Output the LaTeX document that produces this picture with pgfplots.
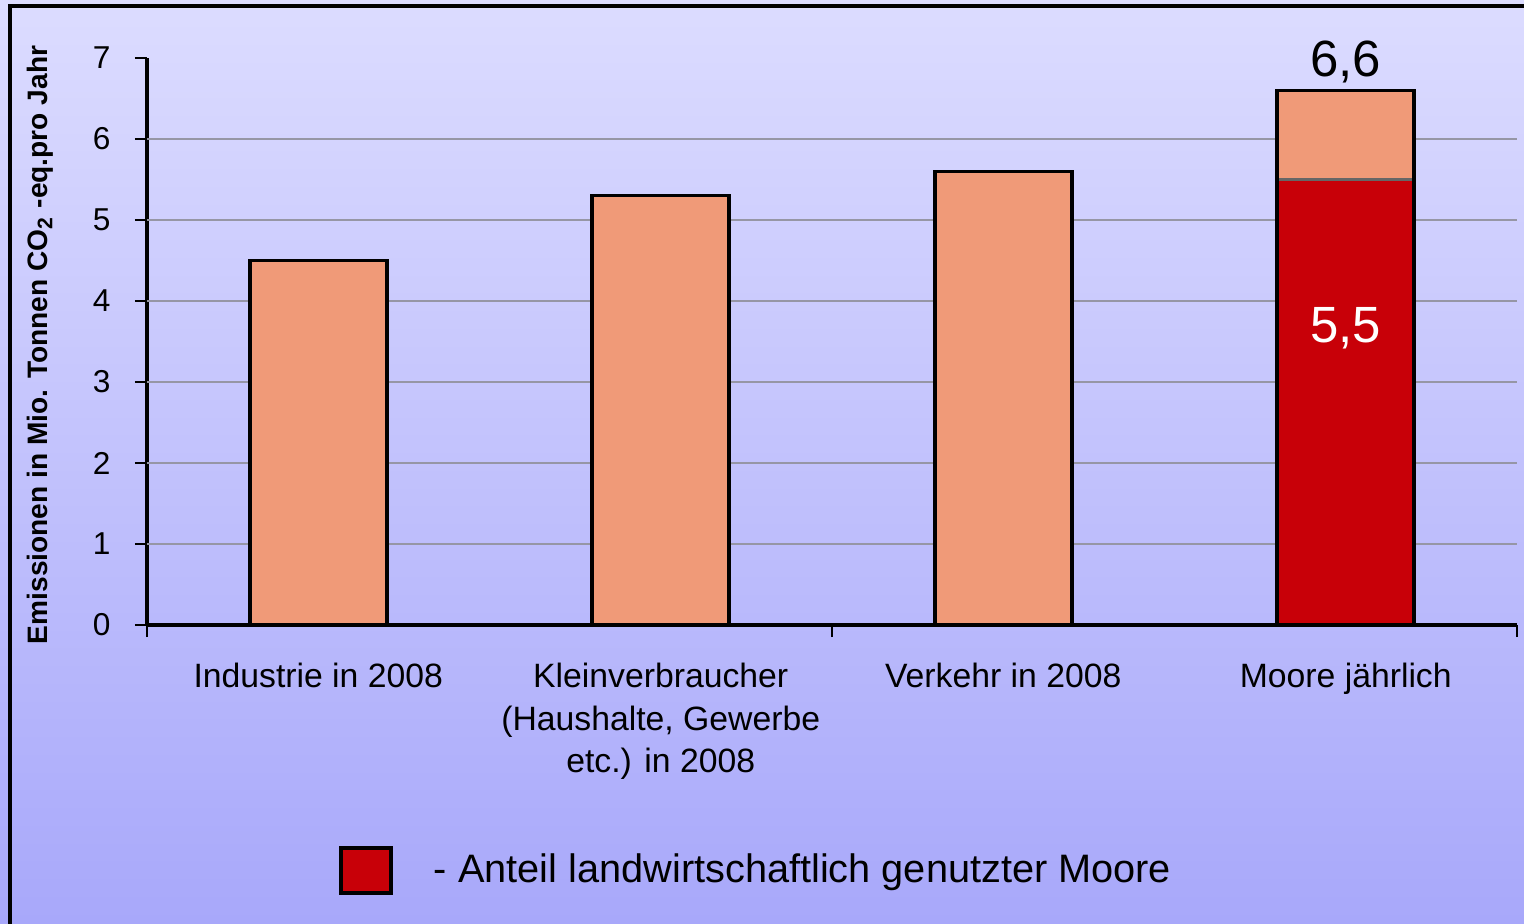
\documentclass[border=0pt]{standalone}
\usepackage{pgfplots}
\pgfplotsset{compat=1.18}
\usepackage{fontspec}
\setmainfont{Liberation Sans}
\definecolor{bgtop}{RGB}{220,220,255}
\definecolor{bgbot}{RGB}{168,168,250}
\definecolor{lachs}{RGB}{240,154,120}
\definecolor{moorrot}{RGB}{200,0,8}
\definecolor{gitter}{RGB}{150,150,165}
\begin{document}
\begin{tikzpicture}
% background and frame
\path[use as bounding box] (-1.47,-2.98) rectangle (13.77,6.25);
\clip (-1.47,-2.98) rectangle (13.77,6.25);
\shade[top color=bgtop, bottom color=bgbot] (-1.47,-2.98) rectangle (13.77,6.25);
\draw[line width=0.9pt] (-1.37,-3.5) -- (-1.37,6.19) -- (14.5,6.19);

\begin{axis}[
    at={(0,0)}, anchor=south west,
    scale only axis,
    width=13.7cm, height=5.67cm,
    xmin=0, xmax=4, ymin=0, ymax=7,
    axis lines*=left,
    axis line style={line width=1pt, -},
    tick align=outside,
    major tick length=0.12cm,
    tick style={black, line width=0.5pt},
    xtick={0,2,4}, xticklabels={},
    ytick={0,...,7},
    /pgf/number format/assume math mode=true,
    yticklabel style={font=\fontsize{9}{10}\selectfont, xshift=-0.12cm},
    extra y ticks={1,...,6}, extra y tick labels={},
    extra y tick style={grid=major, major tick length=0pt,
        major grid style={gitter, line width=0.5pt}},
    extra x ticks={0.5,1.5,2.5,3.5},
    extra x tick labels={Industrie in 2008, {Kleinverbraucher\\(Haushalte, Gewerbe\\etc.) in 2008}, Verkehr in 2008, Moore jährlich},
    extra x tick style={major tick length=0pt,
        xticklabel style={align=center, yshift=-0.26cm, font=\fontsize{9.6}{12.1}\selectfont}},
    ylabel={\bfseries Emissionen in Mio. Tonnen CO\textsubscript{2} -eq.pro Jahr},
    ylabel style={at={(axis description cs:-0.078,0.494)}, anchor=center, font=\fontsize{8}{9}\selectfont},
    ybar, bar width=1.37cm, bar shift=0pt,
    legend style={at={(rel axis cs:0.132,-0.433)}, anchor=west, draw=none, fill=none,
        font=\fontsize{11.3}{13}\selectfont},
    clip=false,
]
% salmon fill, totals
\addplot[fill=lachs, draw=none, forget plot] coordinates {(0.5,4.5) (1.5,5.3) (2.5,5.6) (3.5,6.6)};
% red share
\addplot[fill=moorrot, draw=black!60, line width=0.6pt,
    legend image code/.code={\draw[fill=moorrot, draw=black, line width=1pt] (0cm,-0.225cm) rectangle (0.5cm,0.225cm); \path (0.85cm,0);}]
    coordinates {(3.5,5.5)};
\addlegendentry{- Anteil landwirtschaftlich genutzter Moore}
% outlines
\addplot[fill=none, draw=black, line width=1pt, forget plot] coordinates {(0.5,4.5) (1.5,5.3) (2.5,5.6) (3.5,6.6)};
\node[above, font=\fontsize{14.5}{16}\selectfont, inner sep=2pt] at (axis cs:3.5,6.6) {6,6};
\node[white, font=\fontsize{14.5}{16}\selectfont] at (axis cs:3.5,3.67) {5,5};
\end{axis}
\end{tikzpicture}
\end{document}
